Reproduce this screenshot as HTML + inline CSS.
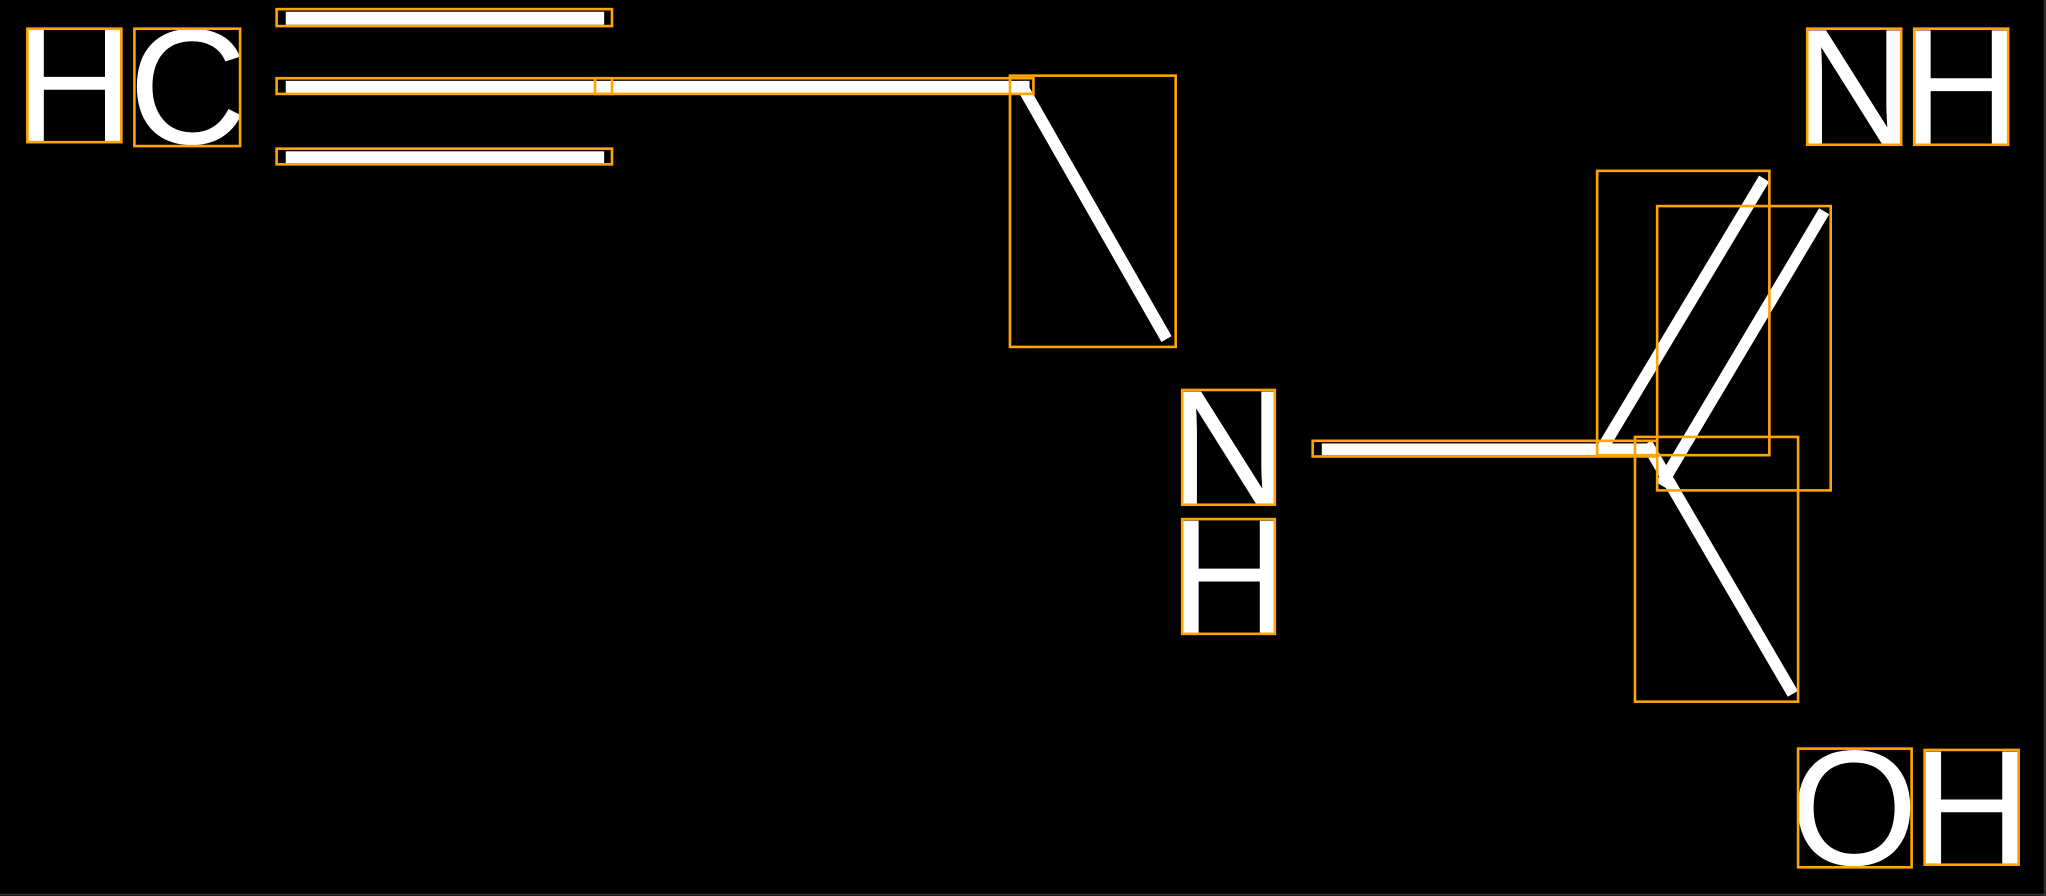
<!DOCTYPE html>
<html><head><meta charset="utf-8"><style>
html,body{margin:0;padding:0;background:#000;overflow:hidden}
svg{display:block}
text{font-family:"Liberation Sans",sans-serif;font-size:126px;fill:#fff}
</style></head><body>
<svg width="2046" height="896" viewBox="0 0 1568 687" preserveAspectRatio="none" xmlns="http://www.w3.org/2000/svg">
<rect x="0" y="0" width="1568" height="687" fill="#000"/>
<line x1="1567" y1="0" x2="1567" y2="687" stroke="#333" stroke-width="1.5"/>
<line x1="0" y1="686" x2="1568" y2="686" stroke="#333" stroke-width="1.5"/>
<g fill="#fff">
<rect x="219" y="9" width="244" height="10"/>
<rect x="219" y="62" width="570" height="10"/>
<rect x="219" y="116" width="244" height="10"/>
<rect x="1013" y="340" width="252" height="9"/>
</g>
<g stroke="#fff" stroke-width="9" fill="none">
<line x1="782" y1="64" x2="894" y2="260"/>
<line x1="1229" y1="342" x2="1352" y2="137"/>
<line x1="1273" y1="372" x2="1398" y2="162"/>
<line x1="1262" y1="340" x2="1374" y2="532"/>
</g>
<text x="57" y="109" text-anchor="middle">H</text>
<text x="144" y="110" text-anchor="middle">C</text>
<text x="942" y="387" text-anchor="middle">N</text>
<text x="942" y="486" text-anchor="middle">H</text>
<text x="1421" y="110" text-anchor="middle">N</text>
<text x="1503" y="110" text-anchor="middle">H</text>
<text x="1421" y="663" text-anchor="middle">O</text>
<text x="1511" y="663" text-anchor="middle">H</text>
<g stroke="#FFA500" stroke-width="2" fill="none">
<rect x="21" y="22" width="72" height="87"/>
<rect x="103" y="22" width="81" height="90"/>
<rect x="212" y="7" width="257" height="13"/>
<rect x="212" y="60" width="257" height="12"/>
<rect x="456" y="60" width="336" height="12"/>
<rect x="212" y="114" width="257" height="12"/>
<rect x="774" y="58" width="127" height="208"/>
<rect x="906" y="299" width="71" height="88"/>
<rect x="906" y="398" width="71" height="88"/>
<rect x="1006" y="338" width="264" height="12"/>
<rect x="1224" y="131" width="132" height="218"/>
<rect x="1270" y="158" width="133" height="218"/>
<rect x="1253" y="335" width="125" height="203"/>
<rect x="1385" y="22" width="72" height="89"/>
<rect x="1467" y="22" width="72" height="89"/>
<rect x="1378" y="574" width="87" height="91"/>
<rect x="1475" y="575" width="72" height="88"/>
</g>
</svg>
</body></html>
